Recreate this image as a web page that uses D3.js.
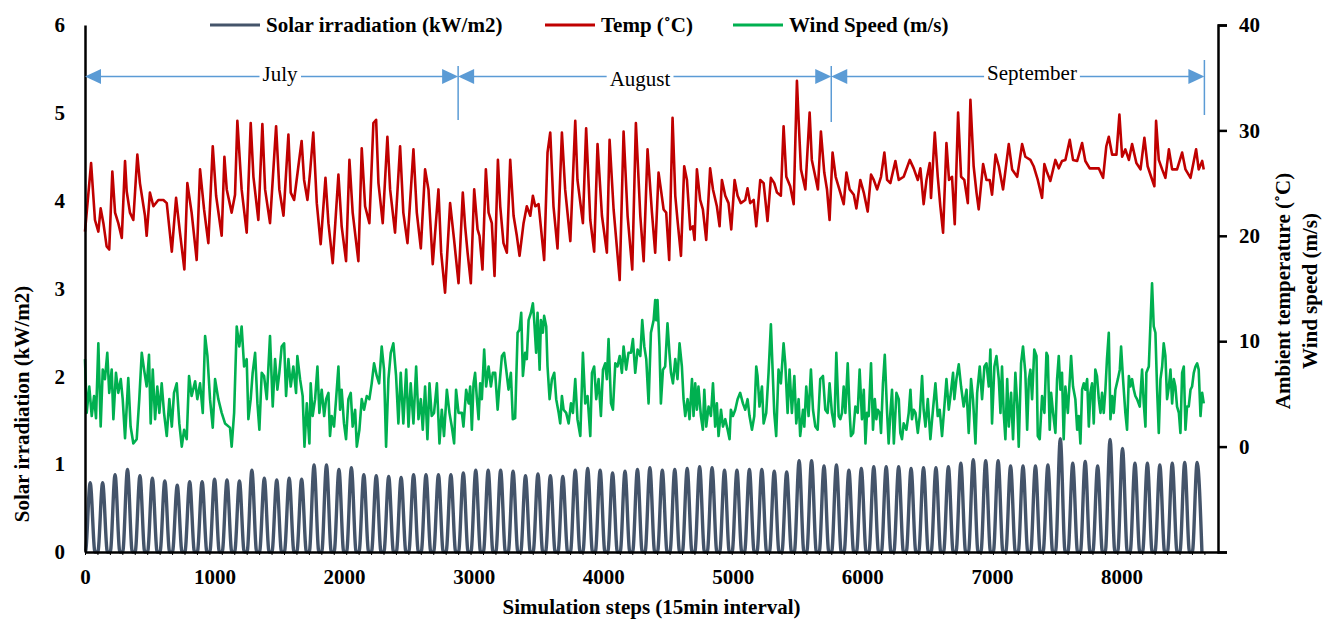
<!DOCTYPE html>
<html>
<head>
<meta charset="utf-8">
<script src="https://cdn.jsdelivr.net/npm/d3@7"></script>
<style>
body { margin: 0; background: #fff; }
text { font-family: "Liberation Serif", "Times New Roman", serif; }
</style>
</head>
<body>
<svg id="chart" width="1328" height="621"></svg>
<script>
// x axis: simulation steps, 96 per day
var xTicks = [0, 1000, 2000, 3000, 4000, 5000, 6000, 7000, 8000];
var leftTicks = [0, 1, 2, 3, 4, 5, 6];
var rightTicks = [-10, 0, 10, 20, 30, 40];
var months = ["July", "August", "September"];
var monthEdges = [0, 2880, 5760, 8640];

// daily peak of solar irradiation (kW/m2), one per day
var solarPeaks = [0.79, 0.79, 0.88, 0.94, 0.87, 0.84, 0.81, 0.76, 0.80, 0.80,
    0.83, 0.82, 0.81, 0.93, 0.84, 0.82, 0.84, 0.83, 0.99, 0.99,
    0.94, 0.96, 0.88, 0.87, 0.86, 0.85, 0.88, 0.88, 0.88, 0.88,
    0.90, 0.93, 0.93, 0.93, 0.92, 0.87, 0.89, 0.87, 0.86, 0.93,
    0.95, 0.93, 0.90, 0.92, 0.94, 0.96, 0.93, 0.94, 0.95, 0.97,
    0.96, 0.93, 0.93, 0.94, 0.94, 0.92, 0.91, 1.04, 1.04, 0.98,
    0.99, 0.93, 0.95, 0.97, 0.97, 0.97, 0.95, 0.96, 0.96, 0.97,
    1.01, 1.05, 1.04, 1.04, 0.98, 0.98, 0.98, 0.99, 1.29, 1.01,
    1.03, 0.98, 1.28, 1.18, 1.01, 1.01, 0.99, 1.01, 1.02, 1.02];
var stepsPerDay = 96;
var sunrise = 3, solarNoon = 40, sunset = 77;   // step offsets within a day

// [step, ambient temperature °C]
var tempData = [[0,20.4],[47,26.9],[77,21.5],[103,20.4],[121,22.6],[142,21.2],[167,19.0],[187,18.7],[211,26.1],[232,22.2],[257,21.2],[284,19.8],[309,27.1],[322,24.2],[347,22.2],[373,21.5],[404,27.7],[424,25.0],[463,21.9],[476,20.0],[501,24.1],[528,22.8],[566,23.4],[605,23.4],[631,23.1],[670,18.5],[703,23.6],[733,20.3],[767,16.8],[790,25.0],[823,22.2],[862,17.7],[888,26.3],[919,22.5],[952,19.3],[986,28.5],[1012,23.8],[1055,20.0],[1076,27.5],[1094,24.4],[1132,22.2],[1158,23.9],[1176,30.9],[1209,24.4],[1248,20.3],[1279,30.7],[1300,25.6],[1338,21.5],[1369,30.6],[1390,24.4],[1428,21.2],
    [1475,30.4],[1500,24.4],[1532,21.9],[1570,29.6],[1588,24.1],[1614,23.4],[1647,26.6],[1672,29.0],[1691,25.3],[1717,23.4],[1737,26.0],[1762,29.8],[1789,23.1],[1819,19.2],[1856,25.5],[1879,21.2],[1912,17.4],[1956,25.8],[1981,20.9],[2015,17.6],[2041,27.2],[2066,22.2],[2110,17.6],[2136,28.3],[2162,22.8],[2195,21.2],[2226,30.7],[2247,31.0],[2265,25.0],[2298,21.2],[2334,29.4],[2355,24.4],[2393,20.3],[2432,28.5],[2457,22.2],[2489,19.3],[2535,28.2],[2561,22.2],[2592,18.8],[2625,26.3],[2651,24.4],[2684,17.3],[2728,24.4],[2749,18.4],[2779,14.6],[2818,23.1],[2849,19.6],[2883,15.5],
    [2916,24.1],[2934,20.9],[2953,18.4],[2978,15.5],[3004,24.4],[3030,20.6],[3045,20.0],[3068,16.8],[3094,26.3],[3115,22.2],[3140,21.2],[3161,16.2],[3187,27.2],[3205,22.8],[3230,19.3],[3256,18.4],[3282,27.2],[3308,21.9],[3333,20.0],[3354,18.1],[3385,21.2],[3410,22.8],[3437,21.9],[3457,23.8],[3475,22.8],[3501,23.0],[3544,17.7],[3570,27.9],[3591,29.8],[3616,22.8],[3647,18.8],[3681,29.8],[3706,24.4],[3746,19.5],[3784,30.9],[3801,25.3],[3843,21.2],[3868,30.2],[3900,21.5],[3930,18.5],[3956,28.7],[3990,21.9],[4028,18.4],[4049,29.1],[4080,22.5],[4127,15.8],[4157,29.9],[4188,21.9],[4224,16.8],[4252,30.7],[4286,21.9],[4312,17.6],[4342,28.2],[4376,22.2],[4401,18.4],
    [4427,26.0],[4445,24.4],[4466,22.5],[4486,22.2],[4509,17.7],[4535,31.2],[4556,23.8],[4573,21.5],[4600,18.1],[4625,26.6],[4646,25.3],[4672,20.6],[4692,20.9],[4705,19.6],[4723,26.3],[4748,23.4],[4769,22.5],[4795,19.6],[4825,26.4],[4847,24.4],[4877,22.8],[4898,20.9],[4916,25.3],[4942,23.8],[4967,23.1],[4988,20.6],[5014,25.3],[5037,23.8],[5062,23.1],[5096,23.4],[5114,24.5],[5134,23.1],[5161,23.4],[5181,20.9],[5212,25.3],[5238,25.0],[5268,21.4],[5294,25.5],[5320,25.0],[5341,24.1],[5371,23.8],[5392,30.4],[5413,25.6],[5443,24.7],[5470,23.0],[5495,34.7],[5508,31.0],[5526,26.3],[5560,24.4],[5593,31.7],[5610,27.2],[5637,25.6],[5657,24.4],[5680,29.9],[5706,26.0],[5727,24.4],[5747,21.5],[5770,27.9],[5794,25.6],
    [5830,24.1],[5856,23.0],[5877,26.0],[5902,24.4],[5934,23.9],[5954,22.6],[5984,25.3],[6011,24.1],[6041,22.3],[6067,25.8],[6088,25.3],[6114,24.4],[6144,25.6],[6170,27.9],[6191,25.3],[6216,25.0],[6255,27.1],[6281,25.3],[6319,25.6],[6366,27.2],[6396,26.4],[6428,25.3],[6448,26.4],[6473,23.0],[6495,25.3],[6520,26.9],[6530,23.6],[6559,29.8],[6582,25.6],[6602,22.8],[6623,20.3],[6649,28.8],[6669,25.3],[6692,25.6],[6713,21.1],[6739,31.7],[6762,25.6],[6787,25.3],[6814,23.1],[6834,32.9],[6859,26.6],[6881,24.1],[6898,22.5],[6932,26.8],[6958,25.3],[6983,25.3],[7001,23.9],[7028,27.7],[7053,26.6],[7086,24.4],[7130,28.7],[7156,26.3],[7195,25.6],[7233,28.7],[7258,27.5],
    [7297,27.2],[7322,26.6],[7354,25.3],[7387,23.6],[7405,26.8],[7426,26.0],[7451,25.2],[7490,27.2],[7516,26.4],[7541,27.1],[7567,27.2],[7601,29.1],[7626,27.2],[7658,27.1],[7696,28.8],[7721,27.1],[7755,26.4],[7798,26.4],[7825,26.4],[7858,25.5],[7883,28.5],[7902,29.4],[7928,27.7],[7961,27.7],[7984,31.5],[8005,27.5],[8030,28.2],[8057,27.2],[8082,28.7],[8115,26.9],[8147,26.3],[8177,29.3],[8202,26.6],[8229,25.6],[8254,24.7],[8267,30.9],[8288,27.2],[8314,26.3],[8339,25.5],[8366,28.2],[8391,26.3],[8429,26.3],[8468,27.9],[8494,26.3],[8533,25.5],[8576,28.2],[8596,26.3],[8623,27.1],[8635,26.3]];

// [step, wind speed m/s]
var windData = [[0,8.3],[13,3.2],[33,5.7],[52,2.9],[70,4.8],[85,2.7],[103,9.8],[121,1.9],[137,7.3],[154,6.4],[172,8.9],[187,5.1],[206,7.3],[219,2.6],[239,7.0],[257,5.1],[276,6.4],[291,4.5],[309,0.8],[334,6.5],[352,1.9],[373,0.3],[399,0.7],[419,4.5],[438,8.9],[456,7.3],[476,5.7],[494,8.7],[507,2.2],[523,7.3],[541,2.6],[558,5.7],[574,3.2],[592,6.0],[610,3.2],[631,1.0],[651,4.5],[670,1.9],[687,5.1],[708,6.0],[728,2.2],[747,0.0],[765,1.6],[785,0.7],[803,6.7],[823,4.8],[850,6.2],[867,4.5],[888,6.0],[909,3.2],[927,10.5],[945,8.6],[965,4.5],[986,1.8],[1004,6.4],[1029,4.5],[1055,3.2],[1081,2.2],[1119,1.8],[1132,0.0],[1151,3.2],[1171,11.4],[1191,9.5],[1209,11.4],[1228,7.6],[1248,8.3],[1261,2.6],[1279,4.5],[1294,7.0],[1313,8.9],[1331,4.1],[1346,1.6],[1364,7.0],[1382,6.7],[1403,4.5],[1428,10.5],[1449,3.8],[1467,8.3],
    [1485,5.4],[1500,7.0],[1518,9.5],[1537,9.8],[1552,4.8],[1570,8.3],[1588,5.7],[1608,7.6],[1629,5.1],[1639,8.6],[1660,6.4],[1680,4.8],[1694,0.0],[1712,4.1],[1732,0.3],[1742,6.0],[1757,2.9],[1776,4.5],[1794,7.6],[1809,3.2],[1827,5.4],[1846,2.9],[1861,4.5],[1879,5.1],[1891,1.0],[1904,2.9],[1922,1.9],[1938,4.5],[1956,7.6],[1969,3.5],[1981,5.4],[1999,2.2],[2015,0.7],[2033,4.5],[2051,5.1],[2066,1.9],[2085,3.5],[2098,0.0],[2118,1.6],[2136,4.5],[2154,3.5],[2175,4.8],[2195,4.5],[2213,6.0],[2231,7.9],[2252,6.7],[2270,6.0],[2290,9.5],[2308,7.3],[2324,0.0],[2342,6.4],[2360,8.9],[2380,9.8],[2401,6.7],[2419,2.2],[2437,7.0],[2457,2.2],[2479,7.3],[2497,1.9],[2514,6.0],[2535,2.2],[2556,7.6],[2574,2.6],[2592,4.5],[2607,1.6],[2625,5.7],[2643,0.7],[2659,6.0],[2676,2.9],[2694,3.2],[2716,6.0],[2736,0.3],[2754,3.5],[2771,1.0],[2793,5.4],[2813,3.2],[2831,1.9],[2849,0.3],[2864,5.4],[2883,3.2],
    [2909,3.2],[2921,1.9],[2942,5.4],[2961,4.1],[2973,5.7],[2986,1.6],[2999,6.0],[3011,7.0],[3025,4.5],[3038,2.6],[3050,6.0],[3063,4.5],[3081,9.2],[3096,5.7],[3115,7.6],[3133,5.7],[3148,7.0],[3166,7.0],[3185,3.5],[3200,6.0],[3218,8.6],[3235,8.9],[3251,7.3],[3269,5.4],[3287,7.0],[3302,2.6],[3320,2.7],[3339,10.8],[3354,11.1],[3367,12.7],[3380,6.7],[3397,8.9],[3410,8.3],[3424,12.0],[3442,12.7],[3457,13.6],[3467,12.0],[3482,8.9],[3493,12.7],[3509,7.3],[3519,12.0],[3534,10.8],[3544,12.4],[3560,11.4],[3570,7.6],[3586,4.5],[3604,6.4],[3622,7.0],[3637,4.5],[3656,3.2],[3668,2.2],[3681,4.8],[3694,3.5],[3714,3.2],[3733,2.2],[3751,4.1],[3766,3.2],[3784,6.4],[3801,2.6],[3823,1.0],[3843,8.9],[3861,4.1],[3879,4.8],[3900,1.0],[3913,7.0],[3930,7.6],[3946,4.5],[3964,6.4],[3982,2.9],[3998,7.3],[4015,7.9],[4028,6.4],[4041,10.2],[4060,4.1],[4075,3.5],[4093,7.9],[4110,7.6],[4127,8.6],[4144,7.0],[4157,9.5],[4177,7.3],[4195,8.9],[4214,8.9],[4229,10.2],[4247,7.0],[4265,9.2],[4286,8.6],[4301,12.0],[4317,9.5],[4332,8.3],[4350,4.1],[4368,10.8],[4389,12.0],[4401,13.9],
    [4409,12.0],[4419,13.9],[4434,9.5],[4445,4.1],[4461,7.3],[4478,7.6],[4496,11.7],[4511,8.9],[4523,7.0],[4538,6.0],[4556,8.3],[4573,6.4],[4589,9.8],[4607,7.6],[4620,4.5],[4633,2.9],[4651,4.5],[4666,2.6],[4685,6.4],[4697,2.9],[4710,6.0],[4723,3.5],[4735,5.7],[4754,2.9],[4769,1.6],[4780,5.4],[4795,1.9],[4813,3.8],[4831,2.9],[4847,6.0],[4864,1.9],[4877,4.1],[4890,1.0],[4909,3.5],[4924,1.9],[4942,2.6],[4960,1.6],[4975,0.7],[4985,3.5],[5001,2.9],[5019,3.5],[5037,4.5],[5057,5.1],[5078,4.1],[5096,3.5],[5114,4.5],[5129,2.9],[5148,1.6],[5166,2.9],[5181,7.6],[5191,6.7],[5206,3.8],[5225,5.7],[5238,2.2],[5258,3.2],[5276,7.0],[5294,11.6],[5310,6.4],[5320,3.2],[5335,1.0],[5353,7.3],[5371,6.0],[5392,9.8],[5405,7.9],[5423,3.2],[5438,7.3],[5456,3.2],[5475,6.7],[5490,2.2],[5508,4.5],[5520,1.0],[5542,3.5],[5552,1.9],[5567,5.7],[5585,2.9],[5603,7.3],[5619,3.5],[5637,1.9],[5655,1.6],[5675,6.4],[5696,6.7],[5714,3.5],[5732,3.2],[5747,6.0],[5765,3.2],[5784,1.9],[5799,8.9],[5817,2.9],
    [5830,2.6],[5843,3.2],[5856,5.7],[5869,3.2],[5887,7.9],[5902,3.2],[5912,1.0],[5929,1.3],[5946,3.8],[5964,3.2],[5979,7.3],[5997,2.6],[6011,5.4],[6024,0.3],[6036,3.2],[6049,2.9],[6067,7.9],[6082,1.6],[6096,4.5],[6108,2.6],[6119,3.5],[6134,3.2],[6144,1.3],[6159,6.0],[6173,8.7],[6191,3.2],[6203,0.3],[6216,3.2],[6229,5.4],[6243,0.3],[6263,5.1],[6281,4.5],[6293,1.3],[6306,0.7],[6319,2.2],[6340,1.6],[6358,3.2],[6371,5.4],[6383,2.6],[6396,3.5],[6410,3.2],[6428,1.3],[6443,2.9],[6461,6.7],[6473,3.5],[6487,1.9],[6505,4.5],[6525,0.7],[6545,3.5],[6564,6.0],[6582,2.9],[6597,3.5],[6615,1.0],[6633,3.8],[6649,6.4],[6667,3.5],[6680,4.8],[6700,7.0],[6710,4.5],[6726,6.4],[6744,7.8],[6762,5.7],[6782,3.8],[6804,5.4],[6821,1.3],[6839,6.4],[6854,4.5],[6873,0.3],[6886,5.1],[6906,7.6],[6924,4.5],[6942,7.6],[6958,7.9],[6976,5.7],[6988,9.2],[7001,2.2],[7019,7.6],[7035,8.6],[7053,6.4],[7066,3.2],[7078,7.6],[7091,3.2],[7104,0.7],[7118,6.4],[7130,1.9],[7148,5.1],[7163,0.7],[7181,7.0],[7195,4.1],[7207,0.0],[7225,7.9],[7240,9.5],[7258,7.0],[7272,1.6],[7285,6.4],
    [7297,7.3],[7310,4.5],[7327,9.2],[7344,8.6],[7354,1.0],[7369,0.7],[7387,4.8],[7405,3.2],[7421,8.9],[7431,8.6],[7446,1.6],[7457,5.1],[7472,3.2],[7490,1.3],[7503,6.4],[7516,8.6],[7529,5.4],[7541,7.0],[7554,0.7],[7567,5.7],[7586,3.2],[7601,6.4],[7611,8.6],[7626,5.7],[7644,4.5],[7658,1.6],[7670,2.9],[7683,0.3],[7696,5.4],[7709,6.0],[7721,5.4],[7735,6.4],[7748,1.9],[7760,5.1],[7773,6.0],[7786,2.2],[7798,7.3],[7811,6.7],[7825,4.5],[7838,3.2],[7850,5.1],[7863,3.2],[7876,5.4],[7888,8.3],[7902,10.8],[7915,2.6],[7928,4.8],[7940,3.2],[7953,5.4],[7972,6.4],[7987,7.3],[7997,9.5],[8012,6.4],[8030,3.2],[8043,1.6],[8057,6.7],[8069,5.7],[8082,6.4],[8095,5.4],[8107,4.8],[8120,4.5],[8141,3.8],[8159,7.3],[8172,4.1],[8185,1.9],[8192,7.0],[8211,7.6],[8229,13.3],[8236,15.5],[8249,11.4],[8262,10.8],[8275,5.4],[8288,1.3],[8301,6.4],[8314,7.6],[8326,9.8],[8339,8.6],[8352,4.5],[8366,5.7],[8378,7.3],[8391,4.1],[8404,6.4],[8416,5.7],[8429,3.8],[8443,3.2],[8455,1.3],[8468,7.0],[8481,7.6],[8494,1.6],[8506,3.8],[8519,3.8],[8533,5.4],[8545,5.7],[8558,7.0],[8571,7.6],[8584,7.9],[8596,7.3],[8610,2.9],[8623,5.1],[8635,4.1]];

var colors = { solar: "#44546A", temp: "#C00000", wind: "#00B050", arrow: "#5B9BD5" };
var margin = { left: 85, right: 1218, top: 25, bottom: 552 };
var fontSize = 21;

var svg = d3.select("#chart");

var x = d3.scaleLinear().domain([0, 8745]).range([margin.left, margin.right]);
var yLeft = d3.scaleLinear().domain([0, 6]).range([margin.bottom, margin.top]);
var yRight = d3.scaleLinear().domain([-10, 40]).range([margin.bottom, margin.top]);

// build solar vertices from the daily peaks: night at zero, one arch per day
var solarData = [[0, 0]];
solarPeaks.forEach(function (p, d) {
    var base = d * stepsPerDay;
    solarData.push([base + sunrise, 0], [base + solarNoon, p], [base + sunset, 0]);
});

var lineLeft = d3.line().x(function (d) { return x(d[0]); }).y(function (d) { return yLeft(d[1]); });
var lineRight = d3.line().x(function (d) { return x(d[0]); }).y(function (d) { return yRight(d[1]); });

svg.append("path").datum(solarData)
    .attr("fill", "none").attr("stroke", colors.solar).attr("stroke-width", 3.4)
    .attr("d", lineLeft.curve(d3.curveMonotoneX));
svg.append("path").datum(windData)
    .attr("fill", "none").attr("stroke", colors.wind).attr("stroke-width", 2.6)
    .attr("stroke-linejoin", "round").attr("d", lineRight);
svg.append("path").datum(tempData)
    .attr("fill", "none").attr("stroke", colors.temp).attr("stroke-width", 2.6)
    .attr("stroke-linejoin", "round").attr("d", lineRight);

// axes
var axisFont = function (g) {
    g.selectAll("text").attr("font-size", fontSize).attr("font-weight", "bold")
        .attr("font-family", "Liberation Serif, Times New Roman, serif").attr("fill", "#000");
    g.selectAll("path, line").attr("stroke", "#000");
};

var gLeft = svg.append("g").attr("transform", "translate(" + margin.left + ",0)")
    .call(d3.axisLeft(yLeft).tickValues(leftTicks).tickSize(0).tickPadding(20).tickFormat(d3.format("d")))
    .call(axisFont);
gLeft.select(".domain").attr("stroke-width", 2.5);

var gRight = svg.append("g").attr("transform", "translate(" + margin.right + ",0)")
    .call(d3.axisRight(yRight).tickValues(rightTicks).tickSize(9).tickPadding(12)
        .tickFormat(function (d) { return d < 0 ? "" : d; }))
    .call(axisFont);
gRight.select(".domain").attr("stroke-width", 2.5);
gRight.selectAll("line").attr("stroke-width", 2.5);

var dayTicks = d3.range(0, 8641, stepsPerDay);
var gDays = svg.append("g").attr("transform", "translate(0," + margin.bottom + ")")
    .call(d3.axisBottom(x).tickValues(dayTicks).tickSize(3).tickFormat(""))
    .call(axisFont);
gDays.select(".domain").remove();

var gBottom = svg.append("g").attr("transform", "translate(0," + margin.bottom + ")")
    .call(d3.axisBottom(x).tickValues(xTicks).tickSize(0).tickPadding(17).tickFormat(d3.format("d")))
    .call(axisFont);
gBottom.select(".domain").attr("stroke-width", 2.5);

// axis titles
svg.append("text")
    .attr("x", (margin.left + margin.right) / 2).attr("y", 614)
    .attr("text-anchor", "middle").attr("font-size", fontSize).attr("font-weight", "bold")
    .text("Simulation steps (15min interval)");
svg.append("text")
    .attr("transform", "translate(29," + 404 + ") rotate(-90)")
    .attr("text-anchor", "middle").attr("font-size", fontSize).attr("font-weight", "bold")
    .text("Solar irradiation (kW/m2)");
var rightTitle = svg.append("text")
    .attr("transform", "translate(1290," + 291 + ") rotate(-90)")
    .attr("text-anchor", "middle").attr("font-size", fontSize).attr("font-weight", "bold");
rightTitle.append("tspan").attr("x", 0).attr("dy", 0).text("Ambient temperature (˚C)");
rightTitle.append("tspan").attr("x", 0).attr("dy", 27).text("Wind speed (m/s)");

// month arrows
var arrowY = 76.5;
function arrowHead(tipX, dir) {
    return [[tipX, arrowY], [tipX + dir * 16, arrowY - 7.5], [tipX + dir * 16, arrowY + 7.5]];
}
var monthGroup = svg.append("g");
months.forEach(function (m, i) {
    var x0 = x(monthEdges[i]), x1 = x(monthEdges[i + 1]);
    monthGroup.append("line")
        .attr("x1", x0 + 10).attr("x2", x1 - 10).attr("y1", arrowY).attr("y2", arrowY)
        .attr("stroke", colors.arrow).attr("stroke-width", 1.5);
    monthGroup.append("polygon").attr("points", arrowHead(x0, 1).join(" ")).attr("fill", colors.arrow);
    monthGroup.append("polygon").attr("points", arrowHead(x1, -1).join(" ")).attr("fill", colors.arrow);
});
var sepTops = [66, 66, 60], sepBottoms = [120, 122, 115];
monthEdges.slice(1).forEach(function (e, i) {
    monthGroup.append("line")
        .attr("x1", x(e)).attr("x2", x(e)).attr("y1", sepTops[i]).attr("y2", sepBottoms[i])
        .attr("stroke", colors.arrow).attr("stroke-width", 1.5);
});
// month labels sit in small white text boxes over the arrows
var monthLabelX = [280, 640, 1032], monthLabelY = [81, 86, 80];
months.forEach(function (m, i) {
    var label = monthGroup.append("text")
        .attr("x", monthLabelX[i]).attr("y", monthLabelY[i])
        .attr("text-anchor", "middle").attr("font-size", fontSize).attr("fill", "#000")
        .text(m);
    var box = label.node().getBBox();
    monthGroup.insert("rect", function () { return label.node(); })
        .attr("x", box.x - 3).attr("y", box.y + 1).attr("width", box.width + 6).attr("height", box.height - 2)
        .attr("fill", "#fff");
});

// legend
var legendItems = [
    { label: "Solar irradiation (kW/m2)", color: colors.solar, x: 210 },
    { label: "Temp (˚C)", color: colors.temp, x: 545 },
    { label: "Wind Speed (m/s)", color: colors.wind, x: 733 }
];
var legend = svg.append("g");
legendItems.forEach(function (item) {
    legend.append("line")
        .attr("x1", item.x).attr("x2", item.x + 50).attr("y1", 25).attr("y2", 25)
        .attr("stroke", item.color).attr("stroke-width", 3);
    legend.append("text")
        .attr("x", item.x + 56).attr("y", 32)
        .attr("font-size", fontSize).attr("font-weight", "bold").attr("fill", "#000")
        .text(item.label);
});
</script>
</body>
</html>
